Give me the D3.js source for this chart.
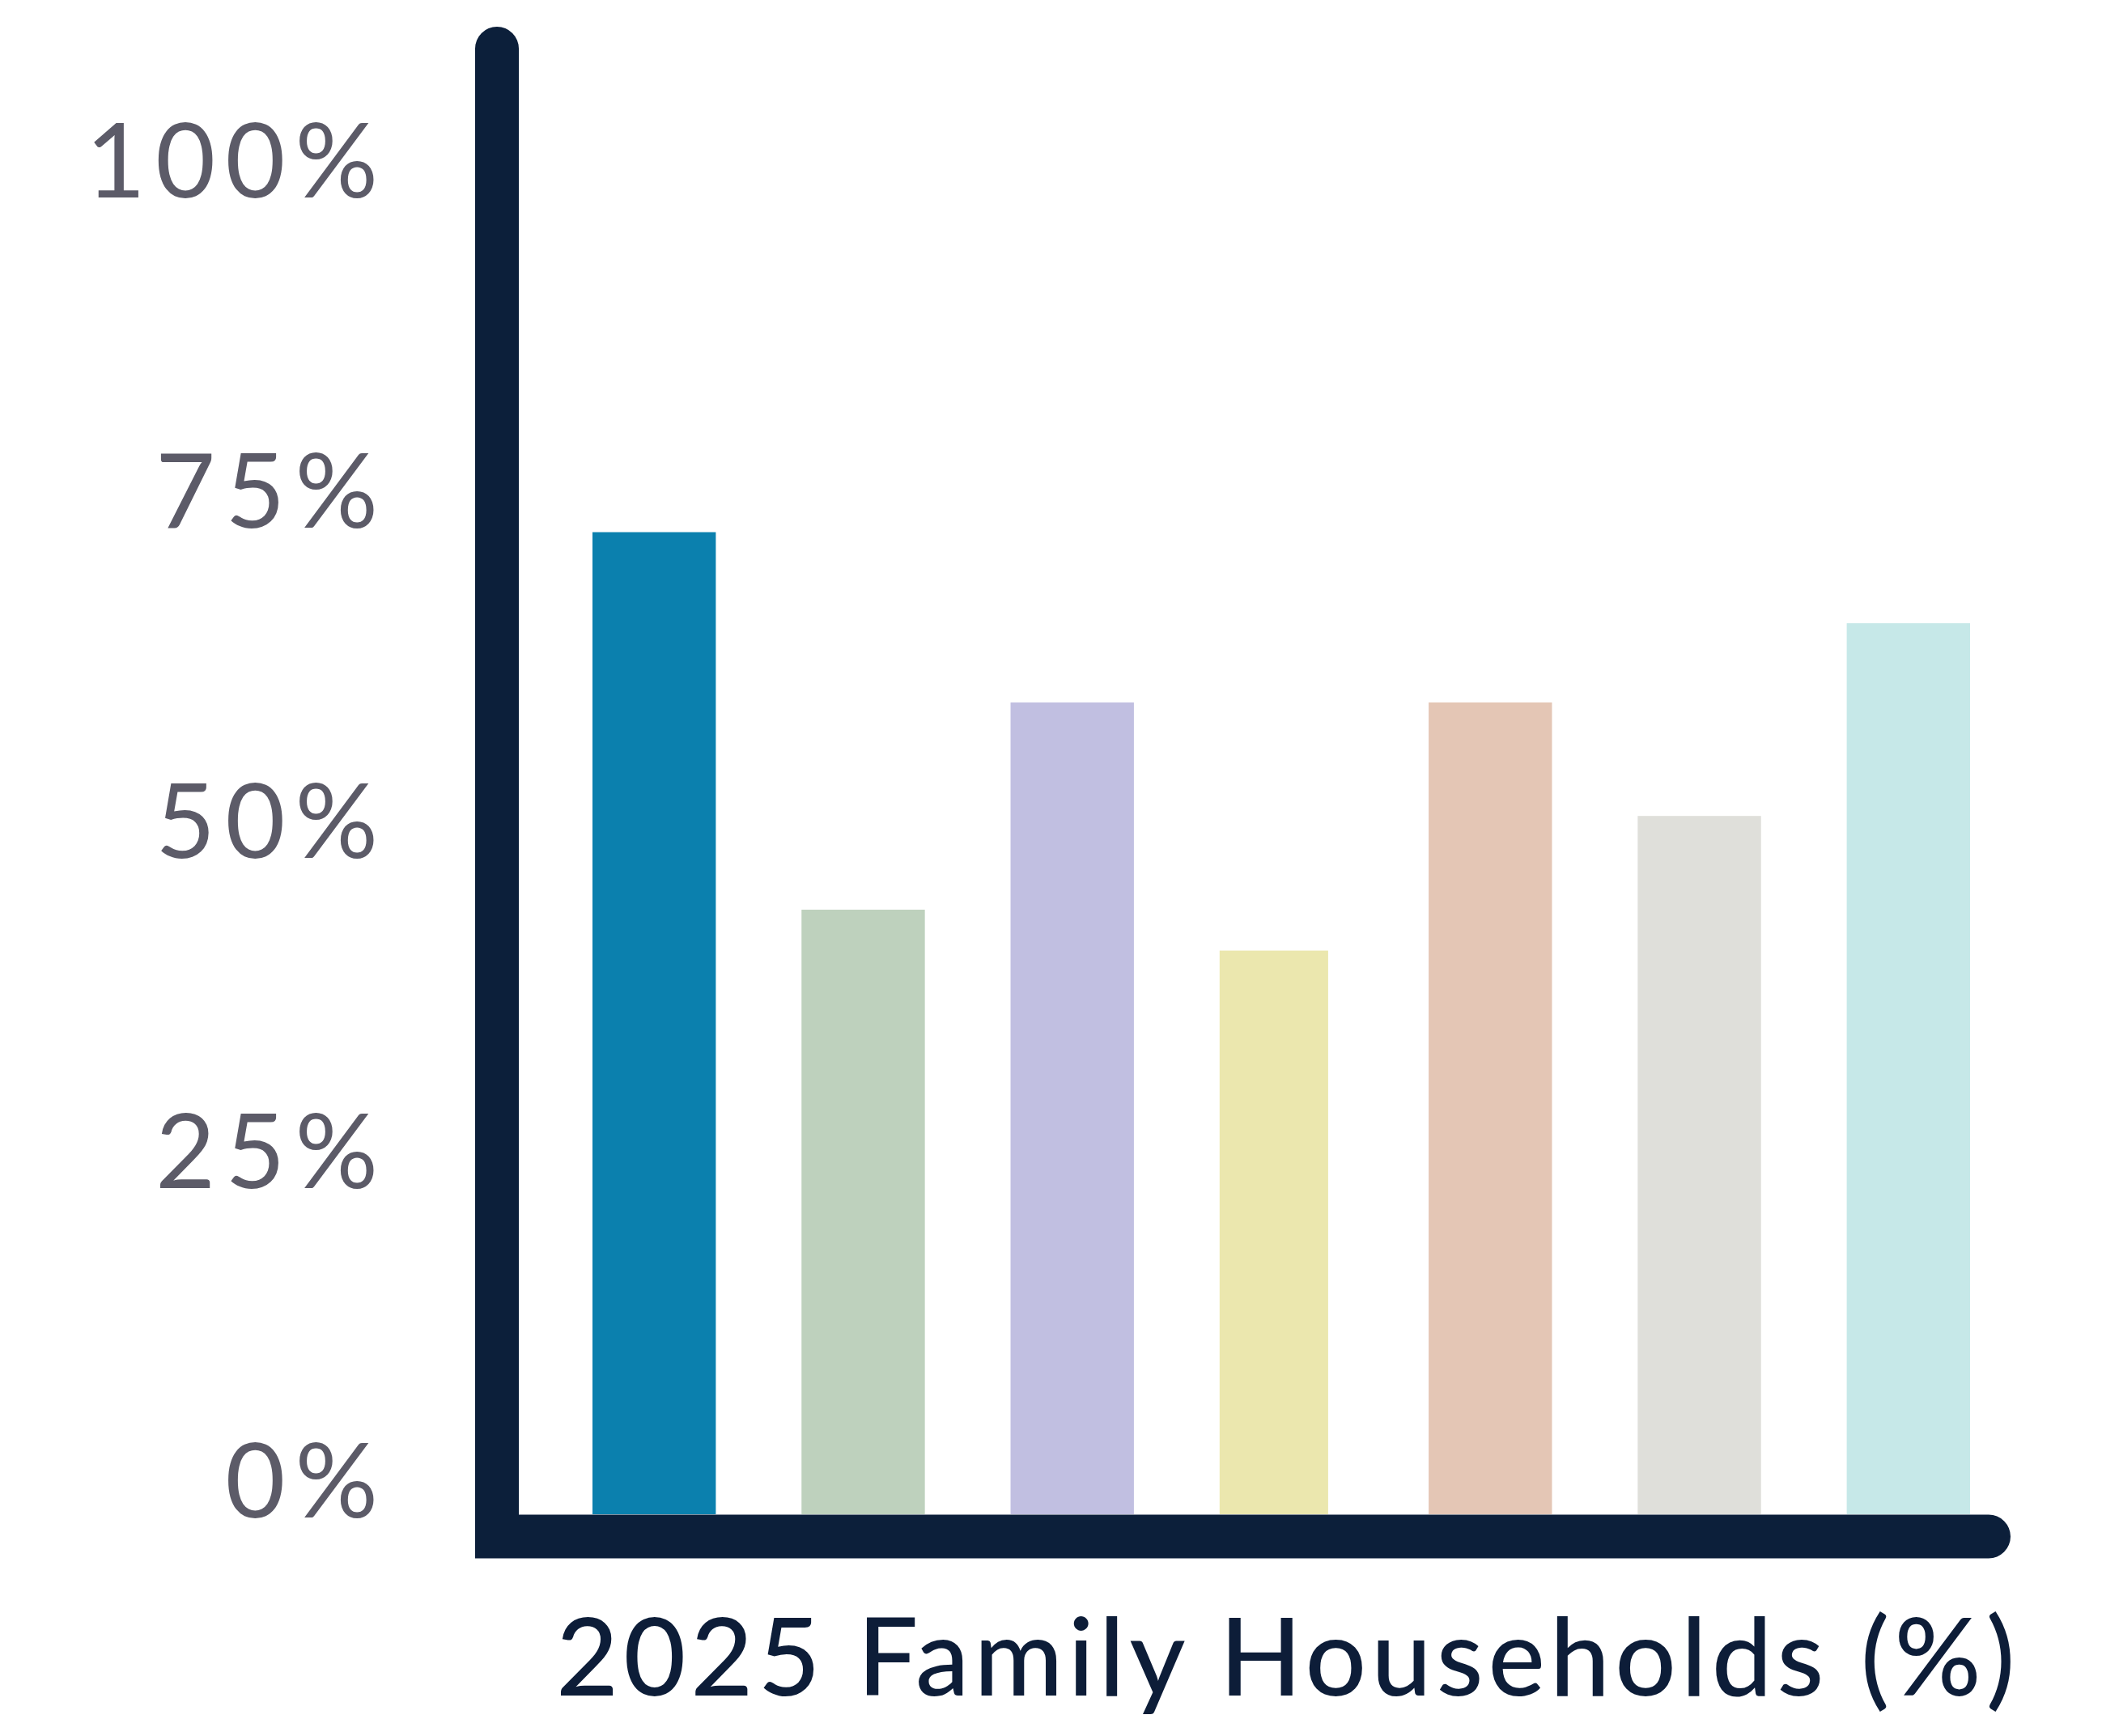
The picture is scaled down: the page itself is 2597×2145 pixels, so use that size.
<!DOCTYPE html>
<html>
<head>
<meta charset="utf-8">
<script src="https://cdn.jsdelivr.net/npm/d3@7"></script>
<style>
  html, body { margin: 0; padding: 0; background: #ffffff; }
</style>
</head>
<body>
<div id="chart"></div>
<script>
// values
const categories = ['A', 'B', 'C', 'D', 'E', 'F', 'G'];
const values = [74.4, 45.8, 61.5, 42.7, 61.5, 52.9, 67.5];
const barColors = ['#0b80ae', '#bed1bd', '#c1bfe1', '#ebe7ae', '#e4c6b5', '#dfdfda', '#c6e8e8'];
const tickValues = [0, 25, 50, 75, 100];
const title = '2025 Family Households (%)';

const width = 2597, height = 2145;
const axisColor = '#0c1f3a';

const svg = d3.select('#chart')
  .append('svg')
    .attr('width', width)
    .attr('height', height);

const x = d3.scaleBand()
    .domain(categories)
    .range([732, 2434])
    .paddingInner(0.41)
    .paddingOuter(0);

const y = d3.scaleLinear()
    .domain([0, 100])
    .range([1871, 240]);

// bars (the yellow one is drawn a little narrower in the original)
svg.append('g')
  .selectAll('rect')
  .data(values)
  .join('rect')
    .attr('x', (d, i) => x(categories[i]))
    .attr('y', d => y(d))
    .attr('width', (d, i) => i === 3 ? x.bandwidth() * 0.88 : x.bandwidth())
    .attr('height', d => y(0) - y(d))
    .attr('fill', (d, i) => barColors[i]);

// y axis labels
const yAxis = d3.axisLeft(y)
  .tickValues(tickValues)
  .tickSize(0)
  .tickPadding(135)
  .tickFormat(d => d + '%');

svg.append('g')
    .attr('transform', 'translate(614,0)')
    .call(yAxis)
    .call(g => g.selectAll('.domain').remove())
    .call(g => g.selectAll('text')
      .attr('dy', '0.03em')
      .attr('fill', '#5c5b68')
      .attr('font-family', 'Lato, sans-serif')
      .attr('font-size', 128)
      .attr('font-weight', 400)
      .attr('letter-spacing', 12));

// thick axis frame
svg.append('path')
    .attr('d', `M614,60 L614,${y(0) + 27.5} L2457,${y(0) + 27.5}`)
    .attr('fill', 'none')
    .attr('stroke', axisColor)
    .attr('stroke-width', 54)
    .attr('stroke-linecap', 'round')
    .attr('stroke-linejoin', 'miter');

// title under the chart
svg.append('text')
    .attr('x', 687)
    .attr('y', 2095)
    .attr('fill', '#0d1d38')
    .attr('font-family', 'Lato, sans-serif')
    .attr('font-size', 133)
    .attr('font-weight', 500)
    .attr('letter-spacing', 6)
    .text(title);
</script>
</body>
</html>
